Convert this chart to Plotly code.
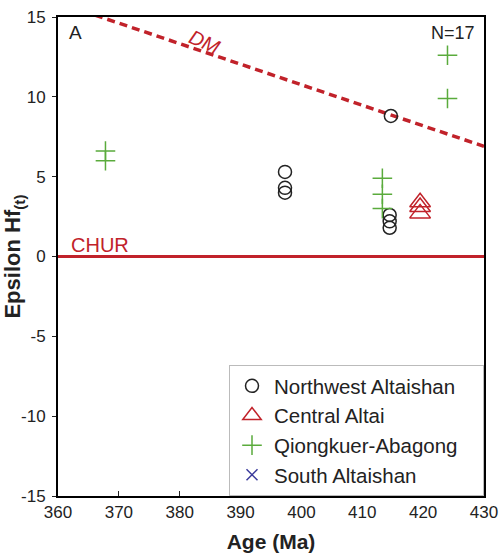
import plotly.graph_objects as go

# Sample groups: crystallisation age (Ma) and epsilon Hf(t)
nw_age = [397.3, 397.3, 397.3, 414.7, 414.5, 414.5, 414.5]
nw_eps = [5.3, 4.3, 4.0, 8.8, 2.6, 2.2, 1.8]

central_age = [419.5, 419.5, 419.5]
central_eps = [3.4, 3.1, 2.7]

qa_age = [367.8, 367.8, 413.3, 413.3, 413.3, 424.0, 424.0]
qa_eps = [6.6, 6.0, 4.9, 3.9, 3.0, 12.6, 9.9]

# No South Altaishan analyses in this panel (legend entry only)
south_age = []
south_eps = []

# Reference evolution lines
dm_age = [360, 430]
dm_eps = [15.9, 6.9]
chur_age = [360, 430]
chur_eps = [0, 0]

x_ticks = [360, 370, 380, 390, 400, 410, 420, 430]
y_ticks = [-15, -10, -5, 0, 5, 10, 15]
y_tick_text = ["-15", "-10", "-5", "0", "5", "10", "15"]

RED = "#c1222a"
GREEN = "#5aab3c"
BLUE = "#3b3b9c"
DARK = "#222222"
FONT = "Liberation Sans, Arial, sans-serif"
PAD = "\u00a0" * 4  # trailing room inside the legend box

fig = go.Figure()

fig.add_trace(go.Scatter(x=dm_age, y=dm_eps, mode="lines", showlegend=False,
                         line=dict(color=RED, width=3.5, dash="8px,5px"),
                         hoverinfo="skip"))
fig.add_trace(go.Scatter(x=chur_age, y=chur_eps, mode="lines", showlegend=False,
                         line=dict(color=RED, width=3), hoverinfo="skip"))

fig.add_trace(go.Scatter(x=nw_age, y=nw_eps, mode="markers", name="Northwest Altaishan" + PAD,
                         marker=dict(symbol="circle-open", size=13, color=DARK,
                                     line=dict(width=1.5, color=DARK))))
fig.add_trace(go.Scatter(x=central_age, y=central_eps, mode="markers", name="Central Altai",
                         marker=dict(symbol="triangle-up-open", size=18, color=RED,
                                     line=dict(width=1.5, color=RED))))
fig.add_trace(go.Scatter(x=qa_age, y=qa_eps, mode="markers", name="Qiongkuer-Abagong",
                         marker=dict(symbol="cross-thin-open", size=14, color=GREEN,
                                     line=dict(width=1.5, color=GREEN))))
fig.add_trace(go.Scatter(x=south_age or [None], y=south_eps or [None], mode="markers",
                         name="South Altaishan", showlegend=True,
                         marker=dict(symbol="x-thin-open", size=11, color=BLUE,
                                     line=dict(width=1.5, color=BLUE))))

fig.update_layout(
    width=500, height=555,
    margin=dict(l=58, r=16, t=17, b=59),
    paper_bgcolor="white", plot_bgcolor="white",
    font=dict(family=FONT, size=17, color=DARK),
    showlegend=True,
    legend=dict(x=1, y=0, xanchor="right", yanchor="bottom",
                bgcolor="white", bordercolor="#bbbbbb", borderwidth=1,
                font=dict(size=20.5, color=DARK), itemwidth=34,
                traceorder="normal"),
    xaxis=dict(range=[360, 430], tickvals=x_ticks, ticks="inside", ticklen=5,
               tickwidth=1, tickcolor=DARK, showline=True, linecolor="black",
               linewidth=2, mirror=True, showgrid=False, zeroline=False,
               automargin=False, tickfont=dict(size=17),
               title=dict(text="<b>Age (Ma)</b>", font=dict(size=21), standoff=13)),
    yaxis=dict(range=[-15, 15], tickvals=y_ticks, ticktext=y_tick_text,
               ticks="outside", ticklen=4, ticklabelstandoff=3,
               tickwidth=1, tickcolor=DARK, showline=True, linecolor="black",
               linewidth=2, mirror=True, showgrid=False, zeroline=False,
               automargin=False, tickfont=dict(size=17),
               title=dict(text="<b>Epsilon Hf<sub>(t)</sub></b>", font=dict(size=22), standoff=3)),
)

fig.add_annotation(x=361.4, y=14.0, xref="x", yref="y", text="A", showarrow=False,
                   xanchor="left", font=dict(size=19, color=DARK))
fig.add_annotation(x=428.8, y=14.0, xref="x", yref="y", text="N=17", showarrow=False,
                   xanchor="right", font=dict(size=18, color=DARK))
fig.add_annotation(x=361.8, y=0.75, xref="x", yref="y", text="CHUR", showarrow=False,
                   xanchor="left", font=dict(size=20, color=RED))
fig.add_annotation(x=384.1, y=13.45, xref="x", yref="y", text="<i>DM</i>", showarrow=False,
                   textangle=24, font=dict(size=20, color=RED))

fig.write_html("out.html")
